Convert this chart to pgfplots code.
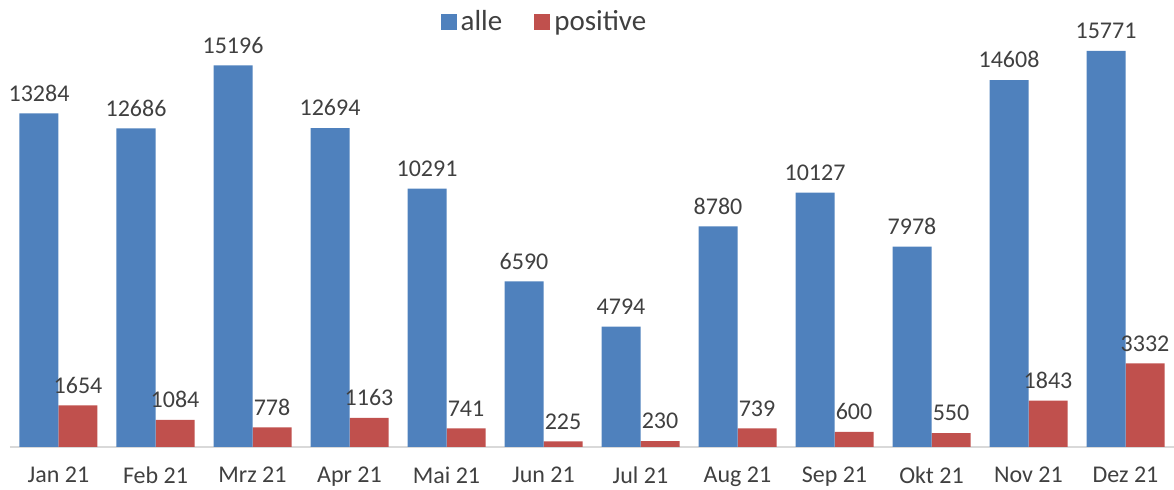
\documentclass[border=0pt]{standalone}
\usepackage{pgfplots}
\pgfplotsset{compat=1.18}
\usepackage{fontspec}
\setmainfont{Carlito}
\definecolor{cblue}{HTML}{4F81BD}
\definecolor{cred}{HTML}{C0504D}
\definecolor{ctext}{HTML}{404040}
\definecolor{caxis}{HTML}{D9D9D9}
\begin{document}
\begin{tikzpicture}
\begin{axis}[
  scale only axis,
  width=582pt, height=223.5pt,
  ymin=0, ymax=17800,
  xmin=-0.5, xmax=11.5,
  axis x line*=bottom,
  axis y line=none,
  x axis line style={draw=caxis, line width=1pt, -},
  xtick={0,...,11},
  xticklabels={Jan 21,Feb 21,Mrz 21,Apr 21,Mai 21,Jun 21,Jul 21,Aug 21,Sep 21,Okt 21,Nov 21,Dez 21},
  xtick style={draw=none},
  xticklabel style={font=\fontsize{12}{14}\selectfont, text=ctext, yshift=-6.5pt},
  ytick=\empty,
  bar width=19.5pt,
  nodes near coords,
  nodes near coords style={font=\fontsize{12}{14}\selectfont, text=ctext, yshift=2.5pt,
    /pgf/number format/assume math mode=true, /pgf/number format/1000 sep={}},
  legend style={draw=none, at={(0.46,0.951)}, anchor=center, legend columns=2,
    font=\fontsize{14.5}{16}\selectfont, text=ctext,
    /tikz/every even column/.append style={column sep=14pt}},
  legend image code/.code={\fill[#1] (0pt,-4pt) rectangle (8pt,4pt);},
  reverse legend,
  clip=false,
]
\addplot[ybar, bar shift=9.75pt, fill=cred, draw=none,
  every node near coord/.append style={xshift=9.75pt}] coordinates {
(0,1654) (1,1084) (2,778) (3,1163) (4,741) (5,225) (6,230) (7,739) (8,600) (9,550) (10,1843) (11,3332)};
\addlegendentry{positive}
\addplot[ybar, bar shift=-9.75pt, fill=cblue, draw=none,
  every node near coord/.append style={xshift=-9.75pt}] coordinates {
(0,13284) (1,12686) (2,15196) (3,12694) (4,10291) (5,6590) (6,4794) (7,8780) (8,10127) (9,7978) (10,14608) (11,15771)};
\addlegendentry{alle}
\end{axis}
\pgfresetboundingbox
\path (-5pt,-21.5pt) rectangle (582pt,223.5pt);
\end{tikzpicture}
\end{document}
